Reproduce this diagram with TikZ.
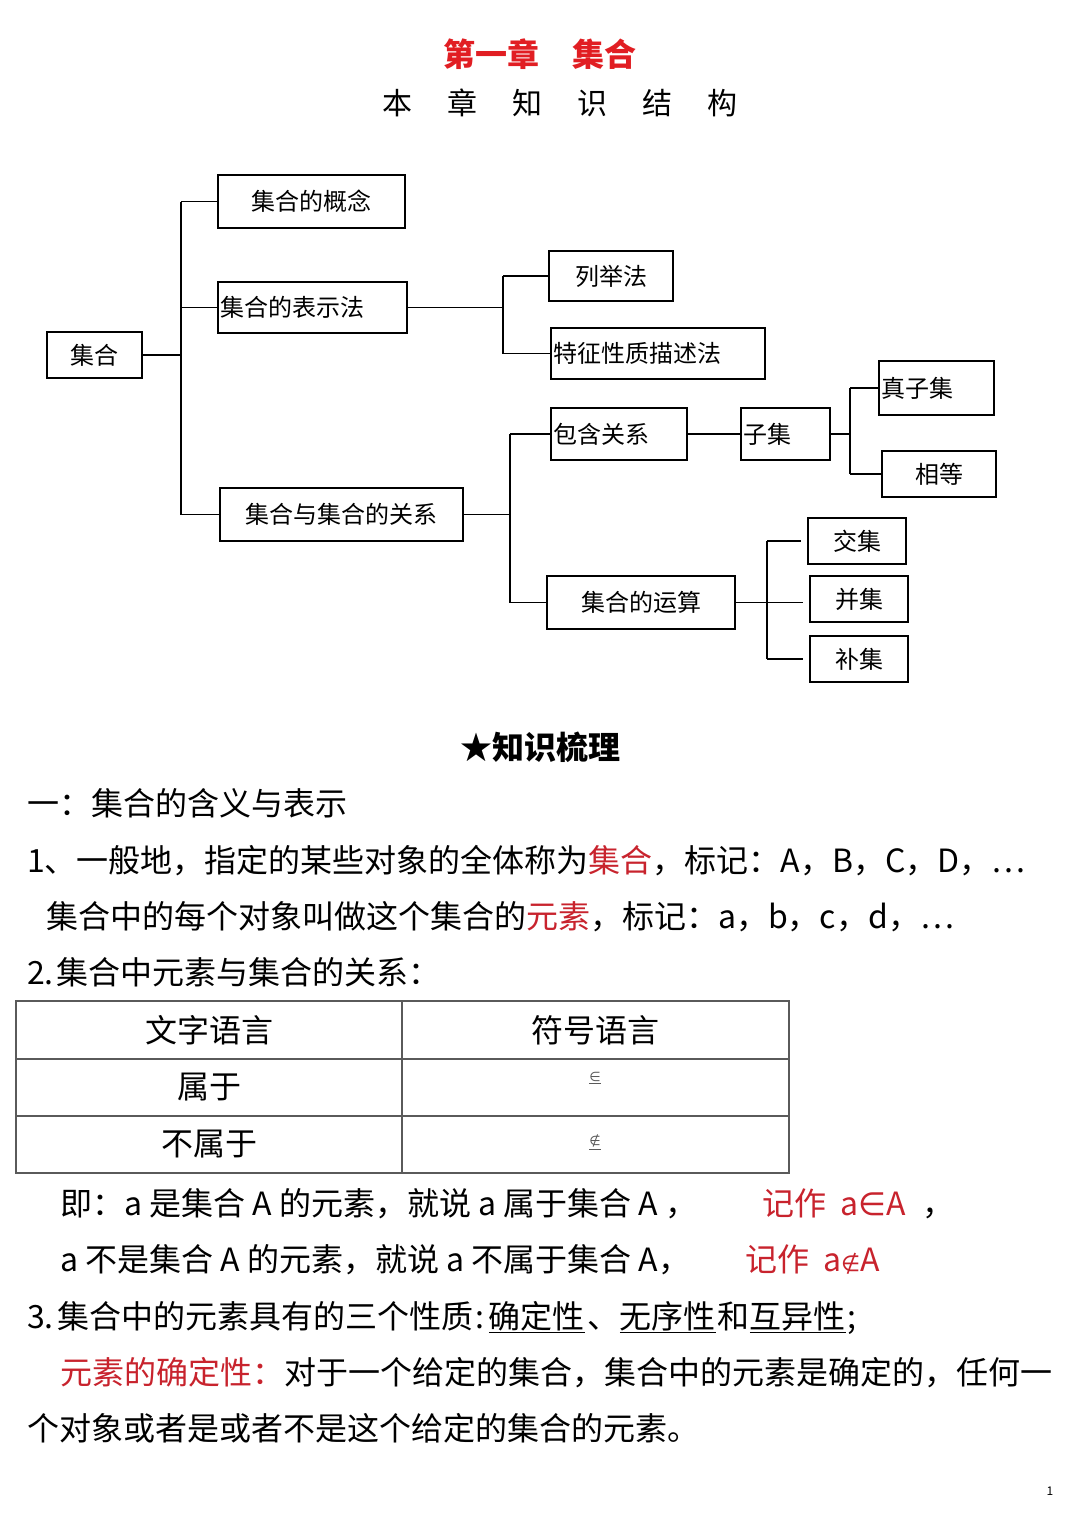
\documentclass[tikz,border=0pt]{standalone}
\usepackage{fontspec}
\setmainfont{Noto Sans CJK SC}
\newfontfamily\sym{DejaVu Sans}
\definecolor{tred}{RGB}{225,30,35}
\definecolor{bred}{RGB}{200,35,45}
\definecolor{tline}{RGB}{90,90,90}
\begin{document}
\begin{tikzpicture}[x=1pt,y=-1pt,
  box/.style={draw=black, line width=1.8pt, inner sep=0pt, font=\fontsize{24}{24}\selectfont},
  cbox/.style 2 args={box, minimum width=#1, minimum height=#2},
  lbox/.style 2 args={box, text width=#1-4pt, inner xsep=2pt, minimum height=#2, align=left},
  ln/.style={line width=1.6pt},
  body/.style={anchor=base west, inner sep=0pt, font=\fontsize{32}{32}\selectfont},
  cell/.style={inner sep=0pt, font=\fontsize{32}{32}\selectfont}]
\useasboundingbox[fill=white] (0,0) rectangle (1080,1526);

% titles
\node[font=\fontsize{32}{32}\selectfont\bfseries, text=tred] (t1) at (540,54) {第一章\hspace{33pt}集合};
\node[font=\fontsize{30}{30}\selectfont] (t2) at (560,103) {本\hspace{35pt}章\hspace{35pt}知\hspace{35pt}识\hspace{35pt}结\hspace{35pt}构};

% tree boxes
\node[cbox={95pt}{46pt}] (root) at (94.5,355) {集合};
\node[cbox={187pt}{53pt}] (c1) at (311.5,201.5) {集合的概念};
\node[lbox={189pt}{51pt}] (c2) at (312.5,307.5) {集合的表示法};
\node[cbox={243pt}{53pt}] (c3) at (341.5,514.5) {集合与集合的关系};
\node[cbox={124pt}{50pt}] (d1) at (611,276) {列举法};
\node[lbox={214pt}{51pt}] (d2) at (658,353.5) {特征性质描述法};
\node[lbox={136pt}{52pt}] (e1) at (619,434) {包含关系};
\node[cbox={188pt}{53pt}] (e2) at (641,602.5) {集合的运算};
\node[lbox={89pt}{52pt}] (f1) at (785.5,434) {子集};
\node[lbox={115pt}{54pt}] (g1) at (936.5,388) {真子集};
\node[cbox={114pt}{46pt}] (g2) at (939,474) {相等};
\node[cbox={98pt}{46pt}] (h1) at (857,541) {交集};
\node[cbox={98pt}{46pt}] (h2) at (859,599) {并集};
\node[cbox={98pt}{46pt}] (h3) at (859,659) {补集};

% junctions
\coordinate (j1) at (181,355);
\coordinate (j2) at (503,307);
\coordinate (j3) at (510,514);
\coordinate (j4) at (850,432);
\coordinate (j5) at (767,601);

\draw[ln] (root.east) -- (root.east -| j1);
\draw[ln] (j1 |- c1.west) -- (j1 |- c3.west);
\draw[ln] (j1 |- c1.west) -- (c1.west);
\draw[ln] (j1 |- c2.west) -- (c2.west);
\draw[ln] (j1 |- c3.west) -- (c3.west);

\draw[ln] (c2.east) -- (c2.east -| j2);
\draw[ln] (j2 |- d1.west) -- (j2 |- d2.west);
\draw[ln] (j2 |- d1.west) -- (d1.west);
\draw[ln] (j2 |- d2.west) -- (d2.west);

\draw[ln] (c3.east) -- (c3.east -| j3);
\draw[ln] (j3 |- e1.west) -- (j3 |- e2.west);
\draw[ln] (j3 |- e1.west) -- (e1.west);
\draw[ln] (j3 |- e2.west) -- (e2.west);

\draw[ln] (e1.east) -- (f1.west);
\draw[ln] (f1.east) -- (f1.east -| j4);
\draw[ln] (j4 |- g1.west) -- (j4 |- g2.west);
\draw[ln] (j4 |- g1.west) -- (g1.west);
\draw[ln] (j4 |- g2.west) -- (g2.west);

\draw[ln] (j5 |- h1.west) -- (j5 |- h3.west);
\draw[ln] (j5 |- h1.west) -- ([xshift=-6pt]h1.west);
\draw[ln] (e2.east) -- ([xshift=-6pt]e2.east -| h2.west);
\draw[ln] (j5 |- h3.west) -- ([xshift=-6pt]h3.west);

% knowledge heading
\node[font=\fontsize{32}{32}\selectfont\bfseries] (k) at (540,747) {★知识梳理};

% body text
\node[body] (l0) at (27,815) {一：集合的含义与表示};
\node[body] (l1) at (27,872) {1、一般地，指定的某些对象的全体称为{\color{bred}集合}，标记：A，B，C，D，…};
\node[body] (l2) at (46,928) {集合中的每个对象叫做这个集合的{\color{bred}元素}，标记：a，b，c，d，…};
\node[body] (l3) at (27,984) {2.\hspace{3pt}集合中元素与集合的关系：};

% table
\coordinate (tl) at (16,1001);
\coordinate (br) at (789,1173);
\draw[tline, line width=1.4pt] (tl) rectangle (br);
\draw[tline, line width=1.4pt] (402,1001) -- (402,1173);
\draw[tline, line width=1.4pt] (16,1059) -- (789,1059);
\draw[tline, line width=1.4pt] (16,1116) -- (789,1116);
\node[cell] (a1) at (209,1030) {文字语言};
\node[cell] (a2) at (595,1030) {符号语言};
\node[cell] (b1) at (209,1087) {属于};
\node[inner sep=0pt, text=tline, font=\sym\fontsize{13}{13}\selectfont] (b2) at (595,1078) {\underline{∈}};
\node[cell] (c1t) at (209,1144) {不属于};
\node[inner sep=0pt, text=tline, font=\sym\fontsize{13}{13}\selectfont] (c2t) at (595,1142) {\underline{∉}};

% statements
\node[body] (l4) at (60,1215) {即：a 是集合 A 的元素，就说 a 属于集合 A ，};
\node[body, text=bred] (l4r) at (762,1215) {记作\hspace{14pt}a{\sym ∈}A};
\node[body] (l4c) at (922,1215) {，};
\node[body] (l5) at (60,1271) {a 不是集合 A 的元素，就说 a 不属于集合 A，};
\node[body, text=bred] (l5r) at (745,1271) {记作\hspace{14pt}a{\sym\fontsize{22}{22}\selectfont ∉}A};
\node[body] (l6) at (27,1328) {3.\hspace{4pt}集合中的元素具有的三个性质\hspace{2pt}:\hspace{4pt}\underline{确定性}\hspace{3pt}、\underline{无序性}\hspace{2pt}和\underline{互异性}\hspace{2pt};};
\node[body] (l7) at (60,1384) {{\color{bred}元素的确定性：}对于一个给定的集合，集合中的元素是确定的，任何一};
\node[body] (l8) at (27,1440) {个对象或者是或者不是这个给定的集合的元素。};

\node[font=\fontsize{12}{12}\selectfont] (pg) at (1050,1491) {1};
\end{tikzpicture}
\end{document}
